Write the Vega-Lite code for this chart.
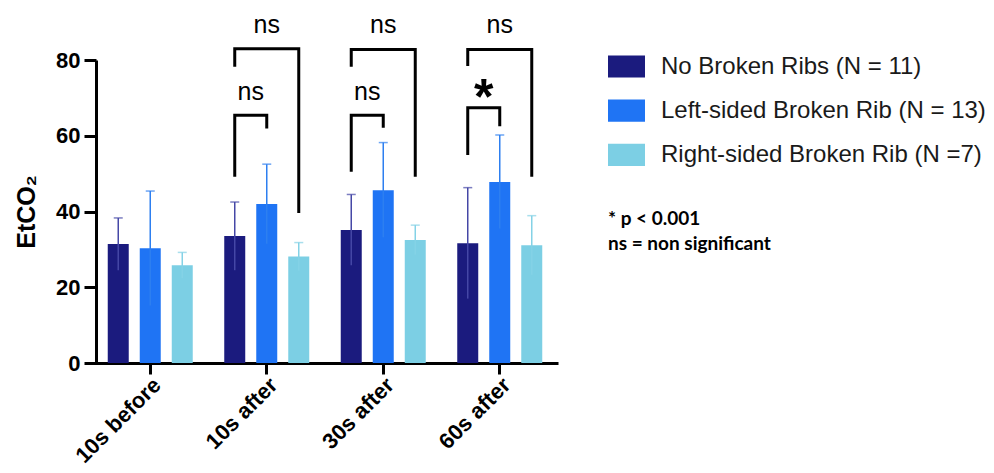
{
  "$schema": "https://vega.github.io/schema/vega-lite/v6.json",
  "width": 466,
  "height": 303,
  "autosize": {"type": "none"},
  "padding": {"left": 92, "top": 60, "right": 436, "bottom": 110},
  "background": "white",
  "config": {"view": {"stroke": null}, "font": "Liberation Sans"},
  "datasets": {
    "bars": [
      {"time": "10s before", "series": "No Broken Ribs (N = 11)", "mean": 31.4, "low": 24.5, "high": 38.3},
      {"time": "10s before", "series": "Left-sided Broken Rib (N = 13)", "mean": 30.3, "low": 15.2, "high": 45.4},
      {"time": "10s before", "series": "Right-sided Broken Rib (N =7)", "mean": 25.8, "low": 22.4, "high": 29.2},
      {"time": "10s after", "series": "No Broken Ribs (N = 11)", "mean": 33.5, "low": 24.5, "high": 42.5},
      {"time": "10s after", "series": "Left-sided Broken Rib (N = 13)", "mean": 42.0, "low": 31.5, "high": 52.5},
      {"time": "10s after", "series": "Right-sided Broken Rib (N =7)", "mean": 28.1, "low": 24.4, "high": 31.8},
      {"time": "30s after", "series": "No Broken Ribs (N = 11)", "mean": 35.1, "low": 25.8, "high": 44.5},
      {"time": "30s after", "series": "Left-sided Broken Rib (N = 13)", "mean": 45.6, "low": 33.2, "high": 58.2},
      {"time": "30s after", "series": "Right-sided Broken Rib (N =7)", "mean": 32.5, "low": 28.6, "high": 36.4},
      {"time": "60s after", "series": "No Broken Ribs (N = 11)", "mean": 31.6, "low": 17.0, "high": 46.3},
      {"time": "60s after", "series": "Left-sided Broken Rib (N = 13)", "mean": 47.8, "low": 35.5, "high": 60.2},
      {"time": "60s after", "series": "Right-sided Broken Rib (N =7)", "mean": 31.1, "low": 23.3, "high": 38.9}
    ],
    "brackets": [
      {"id": "10a-i", "ord": 1, "time": "10s after", "series": "No Broken Ribs (N = 11)", "y": 49.2},
      {"id": "10a-i", "ord": 2, "time": "10s after", "series": "No Broken Ribs (N = 11)", "y": 65.4},
      {"id": "10a-i", "ord": 3, "time": "10s after", "series": "Left-sided Broken Rib (N = 13)", "y": 65.4},
      {"id": "10a-i", "ord": 4, "time": "10s after", "series": "Left-sided Broken Rib (N = 13)", "y": 61.9},
      {"id": "10a-o", "ord": 1, "time": "10s after", "series": "No Broken Ribs (N = 11)", "y": 78.2},
      {"id": "10a-o", "ord": 2, "time": "10s after", "series": "No Broken Ribs (N = 11)", "y": 83.0},
      {"id": "10a-o", "ord": 3, "time": "10s after", "series": "Right-sided Broken Rib (N =7)", "y": 83.0},
      {"id": "10a-o", "ord": 4, "time": "10s after", "series": "Right-sided Broken Rib (N =7)", "y": 39.6},
      {"id": "30a-i", "ord": 1, "time": "30s after", "series": "No Broken Ribs (N = 11)", "y": 50.5},
      {"id": "30a-i", "ord": 2, "time": "30s after", "series": "No Broken Ribs (N = 11)", "y": 65.4},
      {"id": "30a-i", "ord": 3, "time": "30s after", "series": "Left-sided Broken Rib (N = 13)", "y": 65.4},
      {"id": "30a-i", "ord": 4, "time": "30s after", "series": "Left-sided Broken Rib (N = 13)", "y": 62.1},
      {"id": "30a-o", "ord": 1, "time": "30s after", "series": "No Broken Ribs (N = 11)", "y": 78.2},
      {"id": "30a-o", "ord": 2, "time": "30s after", "series": "No Broken Ribs (N = 11)", "y": 82.8},
      {"id": "30a-o", "ord": 3, "time": "30s after", "series": "Right-sided Broken Rib (N =7)", "y": 82.8},
      {"id": "30a-o", "ord": 4, "time": "30s after", "series": "Right-sided Broken Rib (N =7)", "y": 49.2},
      {"id": "60a-i", "ord": 1, "time": "60s after", "series": "No Broken Ribs (N = 11)", "y": 54.9},
      {"id": "60a-i", "ord": 2, "time": "60s after", "series": "No Broken Ribs (N = 11)", "y": 67.4},
      {"id": "60a-i", "ord": 3, "time": "60s after", "series": "Left-sided Broken Rib (N = 13)", "y": 67.4},
      {"id": "60a-i", "ord": 4, "time": "60s after", "series": "Left-sided Broken Rib (N = 13)", "y": 62.5},
      {"id": "60a-o", "ord": 1, "time": "60s after", "series": "No Broken Ribs (N = 11)", "y": 78.4},
      {"id": "60a-o", "ord": 2, "time": "60s after", "series": "No Broken Ribs (N = 11)", "y": 82.8},
      {"id": "60a-o", "ord": 3, "time": "60s after", "series": "Right-sided Broken Rib (N =7)", "y": 82.8},
      {"id": "60a-o", "ord": 4, "time": "60s after", "series": "Right-sided Broken Rib (N =7)", "y": 49.2}
    ],
    "labels": [
      {"time": "10s after", "series": "Left-sided Broken Rib (N = 13)", "y": 87.0, "label": "ns", "level": "outer"},
      {"time": "30s after", "series": "Left-sided Broken Rib (N = 13)", "y": 87.0, "label": "ns", "level": "outer"},
      {"time": "60s after", "series": "Left-sided Broken Rib (N = 13)", "y": 87.0, "label": "ns", "level": "outer"},
      {"time": "10s after", "series": "No Broken Ribs (N = 11)", "y": 69.4, "label": "ns", "level": "inner"},
      {"time": "30s after", "series": "No Broken Ribs (N = 11)", "y": 69.4, "label": "ns", "level": "inner"},
      {"time": "60s after", "series": "No Broken Ribs (N = 11)", "y": 65.7, "label": "*", "level": "star"}
    ]
  },
  "encoding": {
    "x": {
      "field": "time", "type": "nominal",
      "sort": ["10s before", "10s after", "30s after", "60s after"],
      "scale": {"paddingInner": 0, "paddingOuter": 0},
      "axis": {
        "title": null, "labelAngle": -45, "labelFontSize": 22, "labelFontWeight": "bold",
        "labelColor": "black", "labelPadding": 0, "tickSize": 11, "tickWidth": 3,
        "tickColor": "black", "domainWidth": 3, "domainColor": "black"
      }
    },
    "xOffset": {
      "field": "series", "type": "nominal",
      "sort": ["No Broken Ribs (N = 11)", "Left-sided Broken Rib (N = 13)", "Right-sided Broken Rib (N =7)"],
      "scale": {"paddingInner": 0.344, "paddingOuter": 0.492}
    }
  },
  "layer": [
    {
      "data": {"name": "bars"},
      "mark": {"type": "bar"},
      "encoding": {
        "y": {
          "field": "mean", "type": "quantitative",
          "scale": {"domain": [0, 80], "nice": false},
          "axis": {
            "title": "EtCO₂", "titleFontSize": 25, "titleFontWeight": "bold", "titleColor": "black",
            "titlePadding": 16, "values": [0, 20, 40, 60, 80], "labelFontSize": 22,
            "labelFontWeight": "bold", "labelColor": "black", "labelPadding": 4, "tickSize": 12,
            "tickWidth": 3, "tickColor": "black", "domainWidth": 3, "domainColor": "black",
            "grid": false, "offset": -4
          }
        },
        "color": {
          "field": "series", "type": "nominal",
          "scale": {
            "domain": ["No Broken Ribs (N = 11)", "Left-sided Broken Rib (N = 13)", "Right-sided Broken Rib (N =7)"],
            "range": ["#1b1b7e", "#1f74f4", "#7ccfe4"]
          },
          "legend": {
            "orient": "none", "legendX": 516, "legendY": -12,
            "title": ["* p < 0.001", "ns = non significant"], "titleOrient": "bottom",
            "titleFont": "Lato", "titleFontSize": 19, "titleFontWeight": "bold", "titleColor": "black",
            "titleLineHeight": 25, "titlePadding": 43, "titleAnchor": "start", "titleLimit": 400,
            "labelFont": "Liberation Sans", "labelFontSize": 24, "labelColor": "#1a1a1a",
            "labelLimit": 400, "labelOffset": 16, "symbolType": "M-1,-0.6H1V0.6H-1Z",
            "symbolSize": 1369, "symbolStrokeWidth": 0, "rowPadding": 13.2, "symbolOpacity": 1
          }
        }
      }
    },
    {
      "data": {"name": "bars"},
      "mark": {"type": "rule", "strokeWidth": 1.5},
      "encoding": {
        "y": {"field": "low", "type": "quantitative"},
        "y2": {"field": "high"},
        "stroke": {
          "field": "series", "type": "nominal", "legend": null,
          "scale": {
            "domain": ["No Broken Ribs (N = 11)", "Left-sided Broken Rib (N = 13)", "Right-sided Broken Rib (N =7)"],
            "range": ["#4547a6", "#2d7ff0", "#84d2e6"]
          }
        }
      }
    },
    {
      "data": {"name": "bars"},
      "mark": {"type": "tick", "size": 9, "thickness": 1.5},
      "encoding": {
        "y": {"field": "high", "type": "quantitative"},
        "fill": {
          "field": "series", "type": "nominal", "legend": null,
          "scale": {
            "domain": ["No Broken Ribs (N = 11)", "Left-sided Broken Rib (N = 13)", "Right-sided Broken Rib (N =7)"],
            "range": ["#4547a6", "#2d7ff0", "#84d2e6"]
          }
        }
      }
    },
    {
      "data": {"name": "brackets"},
      "mark": {"type": "line", "strokeWidth": 3, "color": "black", "strokeJoin": "miter", "strokeCap": "butt"},
      "encoding": {
        "y": {"field": "y", "type": "quantitative"},
        "detail": {"field": "id"},
        "order": {"field": "ord", "type": "quantitative"}
      }
    },
    {
      "data": {"name": "labels"},
      "transform": [{"filter": "datum.level == 'outer'"}],
      "mark": {"type": "text", "fontSize": 25, "color": "black", "baseline": "alphabetic", "align": "center"},
      "encoding": {
        "y": {"field": "y", "type": "quantitative"},
        "text": {"field": "label"}
      }
    },
    {
      "data": {"name": "labels"},
      "transform": [{"filter": "datum.level == 'inner'"}],
      "mark": {"type": "text", "fontSize": 25, "color": "black", "baseline": "alphabetic", "align": "center", "dx": 16},
      "encoding": {
        "y": {"field": "y", "type": "quantitative"},
        "text": {"field": "label"}
      }
    },
    {
      "data": {"name": "labels"},
      "transform": [{"filter": "datum.level == 'star'"}],
      "mark": {"type": "text", "fontSize": 50, "fontWeight": "bold", "color": "black", "baseline": "alphabetic", "align": "center", "dx": 16},
      "encoding": {
        "y": {"field": "y", "type": "quantitative"},
        "text": {"field": "label"}
      }
    }
  ]
}
